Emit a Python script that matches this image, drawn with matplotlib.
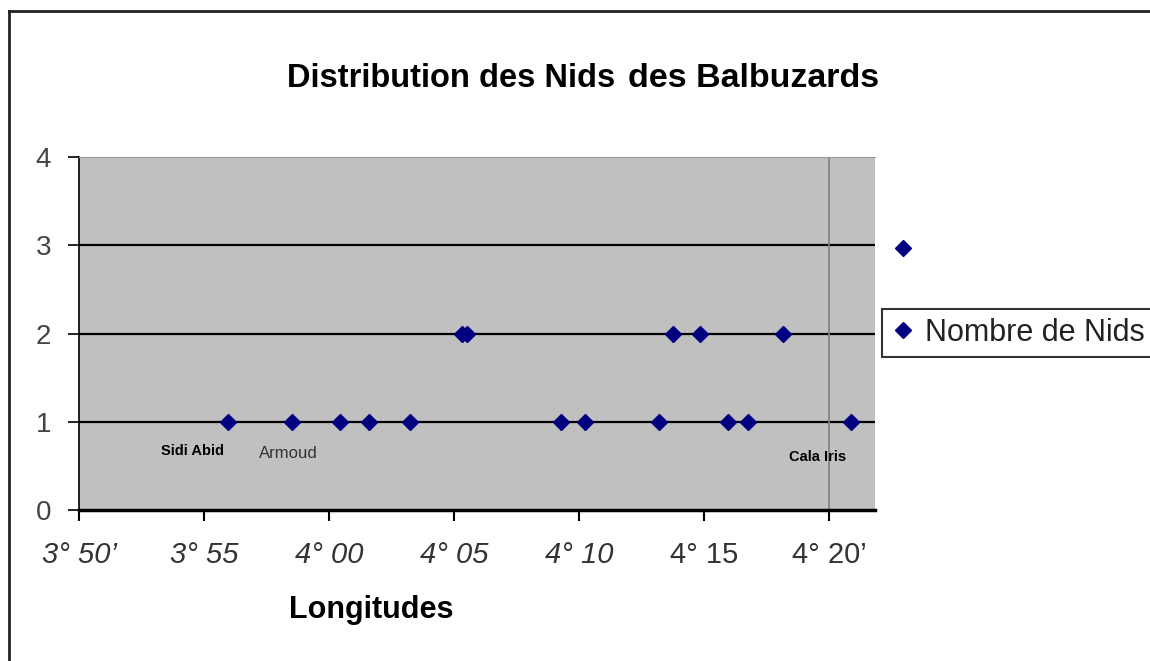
# DISTRIBUTION DES NIDS DES BALBUZARDS

import matplotlib
matplotlib.use("Agg")
import matplotlib.pyplot as plt
from matplotlib.lines import Line2D

plt.rcParams['font.family'] = ['Liberation Sans', 'DejaVu Sans']

# DATA (longitudes in minutes east, i.e. deg*60 + min)

lon_1 = [235.95, 238.51, 240.44, 241.60, 243.24, 249.28, 250.24, 253.21, 255.97, 256.75, 260.87]
nids_1 = [1, 1, 1, 1, 1, 1, 1, 1, 1, 1, 1]

lon_2 = [245.30, 245.50, 253.75, 254.84, 258.17]
nids_2 = [2, 2, 2, 2, 2]

lon_3 = [262.96]
nids_3 = [2.97]

tick_pos = [230, 235, 240, 245, 250, 255, 260]
tick_lab = ["3° 50’", "3° 55", "4° 00", "4° 05", "4° 10", "4° 15", "4° 20’"]
tick_italic = [True, True, True, True, True, False, False]

sites = ["Sidi Abid", "Armoud", "Cala Iris"]
site_lon = [234.52, 238.36, 259.56]
site_y = [0.67, 0.64, 0.60]
site_bold = [True, False, True]

# PLOT

W, H = 1150, 661
fig = plt.figure(figsize=(W/100, H/100), dpi=100)
ax = fig.add_axes([79/W, 1-510/H, (875-79)/W, (510-157)/H])
ax.set_facecolor("#c0c0c0")

for yv in [1, 2, 3]:
    ax.axhline(yv, color="black", lw=1.6, zorder=1)
ax.axvline(260, color="#808080", lw=1.2, zorder=1)

col = "#000080"
ax.plot(lon_1 + lon_2, nids_1 + nids_2, 'D', color=col, ms=8.3, zorder=3,
        label="Nombre de Nids")
ax.plot(lon_3, nids_3, 'D', color=col, ms=8.3, clip_on=False, zorder=3)

for s, x, y, b in zip(sites, site_lon, site_y, site_bold):
    if b:
        ax.text(x, y, s, ha='center', va='center', fontsize=10.5,
                fontweight='bold', color='black')
    else:
        ax.text(x, y, s, ha='center', va='center', fontsize=12, color='#333333')

ax.set_xlim(230, 261.84)
ax.set_ylim(0, 4)
ax.set_xticks(tick_pos)
ax.set_xticklabels(tick_lab, fontsize=21, color="#333333")
for lab, it in zip(ax.get_xticklabels(), tick_italic):
    if it:
        lab.set_fontstyle('italic')
ax.set_yticks([0, 1, 2, 3, 4])
ax.set_yticklabels(["0", "1", "2", "3", "4"], fontsize=20, color="#444444")
ax.tick_params(axis='x', direction='out', length=8, width=1.5, pad=14, color='black')
ax.tick_params(axis='y', direction='out', length=8, width=1.2, pad=12, color='black')

ax.spines['right'].set_visible(False)
ax.spines['top'].set_color('#999999')
ax.spines['top'].set_linewidth(0.8)
ax.spines['left'].set_color('black')
ax.spines['left'].set_linewidth(1.2)
ax.spines['bottom'].set_color('black')
ax.spines['bottom'].set_linewidth(2.5)

# TITLE AND AXIS LABEL

fig.text(287/W, 1-87/H, "Distribution des Nids", fontsize=23.5, fontweight='bold',
         ha='left', va='baseline')
fig.text(628/W, 1-87/H, "des Balbuzards", fontsize=24.5, fontweight='bold',
         ha='left', va='baseline')
fig.text(371/W, 1-610/H, "Longitudes", fontsize=22, fontweight='bold',
         ha='center', va='center')

leg = fig.legend(loc='center left', bbox_to_anchor=(882/W, 1-333/H), fontsize=22,
                 frameon=True, fancybox=False, edgecolor='black', borderpad=0.3,
                 handlelength=0.8, handletextpad=0.3, borderaxespad=0)
leg.get_frame().set_linewidth(1.5)
for t in leg.get_texts():
    t.set_color("#222222")

# OUTER FRAME
fig.add_artist(Line2D([9/W, 9/W], [0, 1-11/H], color='#222222', lw=2))
fig.add_artist(Line2D([9/W, 1], [1-11/H, 1-11/H], color='#222222', lw=2))

fig.savefig("out.png", dpi=100)
